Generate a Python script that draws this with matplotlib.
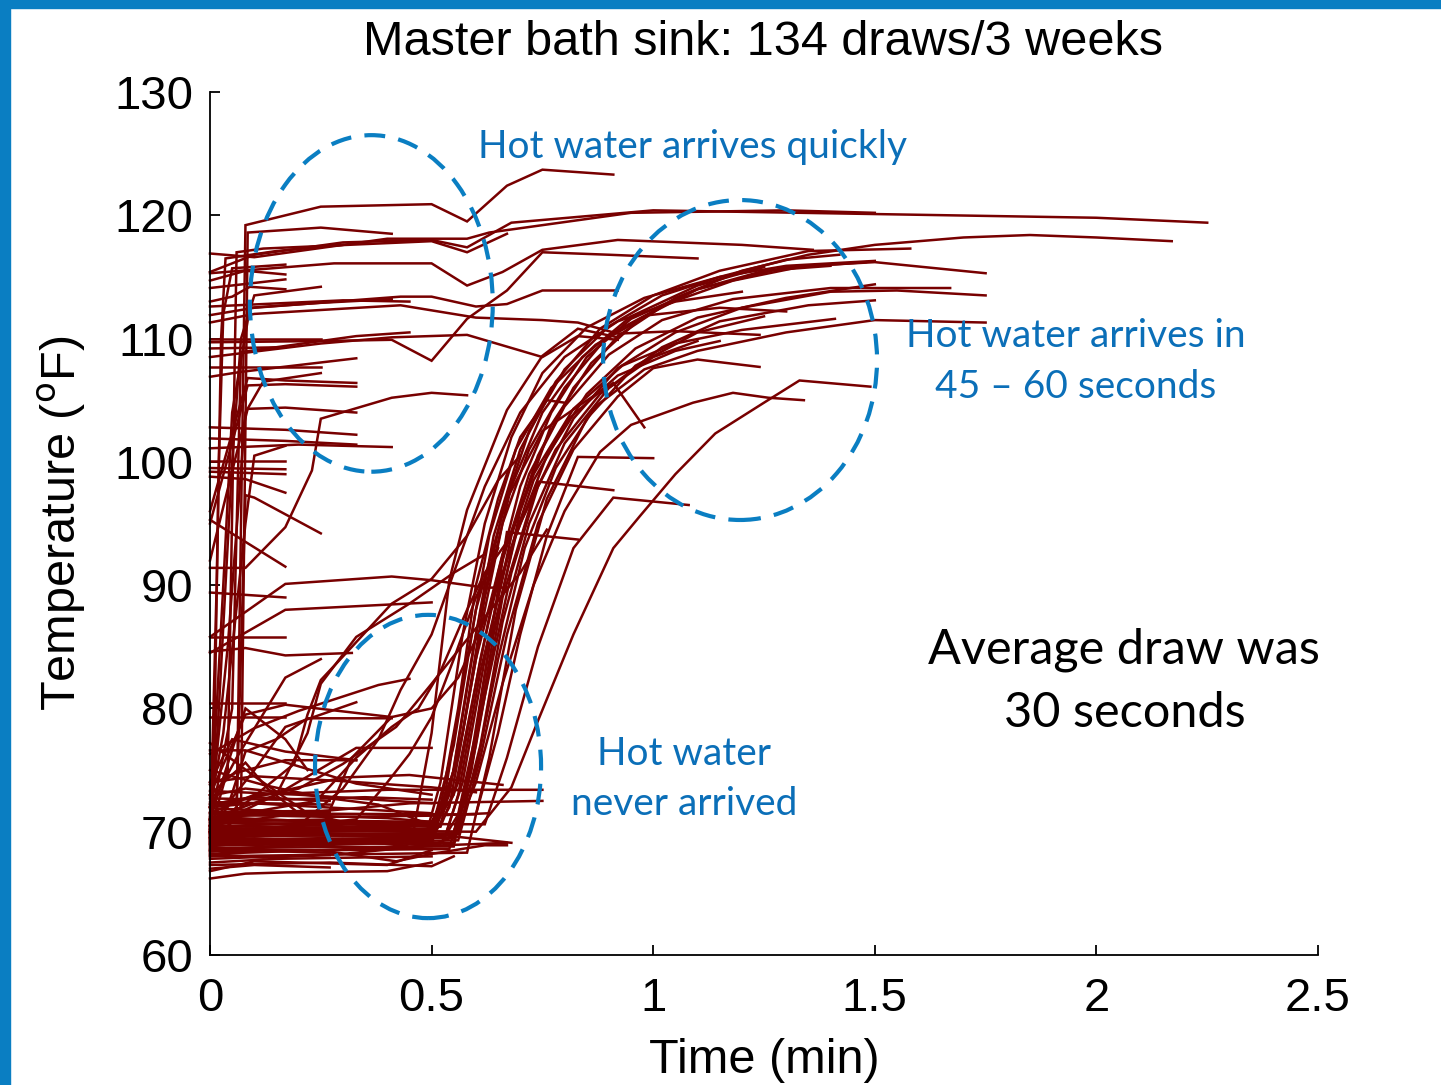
import matplotlib
matplotlib.use("Agg")
import matplotlib.pyplot as plt
from matplotlib.patches import Ellipse, Rectangle

# ---------------- data (time in min, temperature in degF) ----------------
title = "Master bath sink: 134 draws/3 weeks"
x_ticks = [0, 0.5, 1, 1.5, 2, 2.5]
x_tick_labels = ["0", "0.5", "1", "1.5", "2", "2.5"]
y_ticks = [60, 70, 80, 90, 100, 110, 120, 130]

# draws where hot water arrived almost immediately
quick_draws = [
    [(0, 69.5), (0.06, 71), (0.08, 119.2), (0.25, 120.7), (0.5, 120.9), (0.58, 119.5), (0.67, 122.4), (0.75, 123.7), (0.91, 123.3)],
    [(0, 70.5), (0.07, 72), (0.085, 118.6), (0.25, 119.0), (0.41, 118.5)],
    [(0, 115.4), (0.1, 116.8), (0.3, 117.8), (0.5, 118.0), (0.58, 117.4), (0.68, 119.4), (1.0, 120.4), (1.5, 120.1), (2.0, 119.8), (2.25, 119.4)],
    [(0, 116.9), (0.1, 116.6), (0.4, 118.1), (0.58, 118.1), (0.63, 118.6), (0.95, 120.2), (1.3, 120.4), (1.5, 120.2)],
    [(0, 115.3), (0.28, 116.1), (0.5, 116.1), (0.58, 114.3), (0.66, 115.4), (0.75, 117.2), (0.92, 118.0), (1.2, 117.6), (1.36, 117.2)],
    [(0, 111.9), (0.1, 112.5), (0.43, 113.4), (0.5, 113.4), (0.6, 112.6), (0.67, 112.8), (0.75, 113.9), (0.92, 113.9)],
    [(0, 111.3), (0.1, 112.0), (0.43, 112.7), (0.6, 111.7), (0.75, 111.5), (0.83, 111.3), (0.92, 110.4), (1.05, 110.6), (1.24, 110.3)],
    [(0, 109.7), (0.25, 109.8), (0.41, 109.9), (0.5, 108.2), (0.58, 111.6), (0.67, 113.9), (0.75, 117.0), (0.9, 116.8), (1.1, 116.5)],
    [(0, 108.5), (0.25, 109.6), (0.41, 110.1), (0.58, 110.3), (0.75, 108.5), (0.83, 110.2), (0.92, 109.9)],
    [(0, 107.7), (0.25, 107.7)],
    [(0, 96.0), (0.085, 106.8), (0.17, 106.6), (0.33, 106.4)],
    [(0, 95.0), (0.085, 106.2), (0.17, 106.3), (0.33, 106.1)],
    [(0, 92.0), (0.085, 104.3), (0.17, 104.4), (0.33, 104.0)],
    [(0, 91.4), (0.08, 91.4), (0.17, 94.7), (0.23, 99.3), (0.25, 103.5), (0.41, 105.2), (0.5, 105.6), (0.58, 105.4)],
    [(0, 102.8), (0.17, 102.6), (0.33, 102.2)],
    [(0, 101.9), (0.17, 101.7), (0.33, 101.4)],
    [(0, 101.1), (0.2, 101.4), (0.41, 101.2)],
    [(0, 100.1), (0.17, 100.1)],
    [(0, 99.5), (0.17, 99.4)],
    [(0, 99.2), (0.17, 99.0)],
    [(0, 98.8), (0.08, 98.6), (0.17, 97.5)],
    [(0, 70.0), (0.06, 72), (0.08, 97.3), (0.1, 97.1), (0.25, 94.2)],
    [(0, 95.3), (0.17, 91.5)],
    [(0, 85.8), (0.17, 90.1), (0.41, 90.7), (0.5, 90.4), (0.62, 89.8), (0.67, 89.8)],
    [(0, 89.4), (0.17, 89.0)],
    [(0, 84.5), (0.17, 88.0), (0.5, 88.6)],
    [(0, 85.8), (0.17, 85.8)],
    [(0, 84.6), (0.08, 84.9), (0.17, 84.3), (0.32, 84.5)],
    [(0, 80.4), (0.17, 80.4)],
    [(0, 79.3), (0.17, 79.3)],
    [(0, 114.7), (0.08, 115.5), (0.17, 115.2)],
    [(0, 114.1), (0.17, 114.8)],
    [(0, 113.0), (0.05, 113.4), (0.09, 114.2), (0.17, 114.0)],
    [(0, 70.0), (0.04, 75), (0.06, 117.0), (0.12, 117.3), (0.5, 117.9), (0.58, 117.0), (0.67, 118.5)],
    [(0, 110.0), (0.25, 110.0)],
    [(0, 70.5), (0.05, 80), (0.07, 108.9), (0.17, 109.4), (0.33, 110.2), (0.45, 110.5)],
    [(0, 109.2), (0.17, 109.3)],
    [(0, 106.9), (0.07, 107.3), (0.33, 108.4)],
    [(0, 112.6), (0.3, 113.1), (0.45, 113.0)],
    [(0, 70.0), (0.03, 90), (0.05, 104), (0.09, 112.5), (0.25, 112.9), (0.41, 113.2)],
    [(0, 68.5), (0.02, 80), (0.05, 100), (0.07, 110), (0.1, 113.5), (0.25, 114.2)],
    [(0, 71.0), (0.04, 85), (0.08, 104), (0.12, 106.5), (0.25, 107.2)],
    [(0, 72.0), (0.03, 78), (0.08, 95), (0.1, 100.5), (0.17, 101.3)],
    [(0, 70.0), (0.01, 78), (0.02, 100), (0.03, 112), (0.05, 115.7), (0.17, 116.0)],
    [(0, 69.0), (0.015, 90), (0.025, 110), (0.035, 116.5), (0.15, 117.1), (0.3, 117.6)],
    [(0, 72.0), (0.06, 76), (0.17, 82.5), (0.25, 84.0)],
    [(0, 70.5), (0.1, 75), (0.17, 78.5), (0.33, 80.5)],
    [(0, 73.0), (0.08, 79.5), (0.17, 80.3), (0.41, 79.3)],
    [(0, 74.0), (0.05, 77.5), (0.17, 76.5), (0.33, 75.8)],
    [(0, 71.0), (0.08, 80), (0.17, 77.5), (0.22, 75.0)],
    [(0, 76.3), (0.1, 78.4), (0.2, 79.8), (0.38, 81.9), (0.45, 82.4)],
]

# draws where hot water arrived after 45-60 seconds
delayed_draws = [
    [(0, 69.5), (0.25, 69.8), (0.5, 69.4), (0.54, 72), (0.58, 80), (0.62, 88), (0.66, 95), (0.72, 101), (0.8, 106), (0.9, 110.3), (1.03, 112.8), (1.18, 114.7), (1.33, 115.8), (1.48, 116.2)],
    [(0, 68.5), (0.3, 69.2), (0.53, 69.6), (0.57, 74), (0.62, 84), (0.68, 94), (0.74, 100.5), (0.82, 106), (0.92, 110.2), (1.05, 113.3), (1.2, 115.5), (1.35, 116.8), (1.5, 117.6), (1.7, 118.2), (1.85, 118.4), (2.0, 118.2), (2.17, 117.9)],
    [(0, 70.8), (0.5, 70.2), (0.55, 73), (0.6, 82), (0.65, 91), (0.7, 98), (0.77, 104), (0.85, 108.5), (0.95, 111.6), (1.1, 114.0), (1.3, 115.8), (1.5, 116.2), (1.75, 115.3)],
    [(0, 69.2), (0.52, 69.0), (0.57, 72), (0.62, 81), (0.68, 91), (0.74, 98), (0.82, 103.5), (0.92, 107.6), (1.05, 110.5), (1.2, 112.5), (1.4, 113.8), (1.55, 113.9), (1.75, 113.5)],
    [(0, 70.3), (0.55, 70.0), (0.6, 75), (0.65, 84), (0.71, 93), (0.78, 99.5), (0.87, 104.5), (0.98, 107.5), (1.1, 109.0), (1.3, 110.5), (1.5, 111.5), (1.75, 111.3)],
    [(0, 69.8), (0.5, 69.6), (0.54, 73), (0.59, 84), (0.64, 94), (0.7, 101), (0.78, 106.5), (0.88, 110.8), (1.0, 113.5), (1.15, 115.5), (1.35, 117.1), (1.58, 117.3)],
    [(0, 68.9), (0.55, 69.1), (0.59, 75), (0.64, 86), (0.7, 96), (0.77, 103), (0.86, 108), (0.97, 111.6), (1.1, 114.0), (1.25, 115.5), (1.4, 115.9)],
    [(0, 71.2), (0.52, 70.4), (0.56, 74), (0.61, 84), (0.66, 92), (0.72, 99), (0.8, 104.5), (0.9, 108.7), (1.02, 111.5), (1.18, 113.2), (1.4, 114.1), (1.67, 114.1)],
    [(0, 69.7), (0.5, 69.9), (0.56, 76), (0.6, 84), (0.66, 92.5), (0.73, 99), (0.82, 104.3), (0.93, 107.8), (1.05, 109.6), (1.2, 110.7), (1.41, 111.6)],
    [(0, 68.2), (0.48, 68.8), (0.52, 74), (0.57, 86), (0.62, 95), (0.68, 102), (0.75, 107.2), (0.85, 110.9), (0.98, 113.3), (1.15, 115.0), (1.3, 115.9), (1.5, 116.3)],
    [(0, 70.5), (0.46, 70.2), (0.5, 78), (0.54, 90.4), (0.58, 96.1), (0.67, 104.2), (0.75, 108.6), (0.83, 110.8), (0.92, 110.1)],
    [(0, 69.4), (0.55, 69.5), (0.6, 74), (0.66, 82), (0.73, 90), (0.8, 96), (0.88, 100.8), (0.95, 103.0), (1.09, 104.8), (1.18, 105.6), (1.26, 105.2), (1.34, 105.0)],
    [(0, 70.1), (0.6, 70.0), (0.68, 73.6), (0.74, 79), (0.82, 86), (0.91, 93), (0.97, 95.6), (1.05, 99), (1.14, 102.3), (1.25, 104.8), (1.33, 106.6), (1.49, 106.1)],
    [(0, 69.0), (0.56, 69.3), (0.61, 76), (0.67, 86), (0.74, 95), (0.82, 101), (0.92, 105.3), (1.0, 107.6), (1.1, 108.3), (1.24, 107.7)],
    [(0, 71.5), (0.6, 71.4), (0.65, 78), (0.7, 86), (0.76, 94), (0.83, 100.4), (1.0, 100.3)],
    [(0, 68.7), (0.55, 68.8), (0.6, 77), (0.66, 89), (0.74, 98.4), (0.91, 97.7)],
    [(0, 70.7), (0.62, 70.6), (0.67, 76), (0.74, 85), (0.82, 93), (0.91, 97.1), (1.08, 96.5)],
    [(0, 69.9), (0.55, 69.8), (0.6, 78), (0.67, 94.3), (0.83, 93.7)],
    [(0, 69.3), (0.5, 69.0), (0.55, 75), (0.6, 86), (0.66, 96), (0.72, 102.5), (0.8, 107.5), (0.9, 111), (1.02, 113.5), (1.15, 115), (1.3, 116.4), (1.42, 116.8)],
    [(0, 70.2), (0.52, 70.5), (0.57, 78), (0.62, 89), (0.68, 98), (0.75, 104), (0.84, 108.5), (0.95, 111.8), (1.1, 114.3), (1.25, 115.8)],
    [(0, 68.4), (0.54, 68.6), (0.58, 74), (0.63, 85), (0.69, 94), (0.76, 100.5), (0.85, 105.5), (0.96, 109.2), (1.1, 111.7), (1.3, 113.3), (1.5, 114.4)],
    [(0, 69.6), (0.56, 69.8), (0.61, 77), (0.66, 87), (0.72, 95), (0.8, 101.5), (0.9, 106), (1.02, 109.3), (1.15, 111.4), (1.35, 112.7), (1.5, 113.1)],
    [(0, 71.0), (0.5, 70.8), (0.53, 73), (0.58, 84), (0.63, 94), (0.69, 101), (0.77, 106), (0.87, 109.5), (0.99, 111.9), (1.15, 112.5), (1.3, 112.2)],
    [(0, 68.0), (0.58, 68.3), (0.63, 76), (0.69, 88), (0.76, 97), (0.85, 103.5), (0.96, 107.8), (1.1, 110.5), (1.25, 111.8)],
    [(0, 70.0), (0.53, 69.5), (0.56, 73), (0.61, 83), (0.67, 92), (0.73, 98.5), (0.81, 103.5), (0.92, 107), (1.05, 109), (1.15, 109.8)],
    [(0, 69.1), (0.48, 69.4), (0.52, 72), (0.56, 80), (0.6, 90), (0.65, 97), (0.7, 102), (0.76, 105), (0.8, 104.8)],
    [(0, 70.3), (0.5, 70.1), (0.55, 77), (0.6, 88), (0.67, 97), (0.75, 102.5), (0.83, 104.5), (0.91, 106.4), (0.98, 102.8)],
    [(0, 70.0), (0.2, 70.5), (0.3, 73.5), (0.38, 77.5), (0.43, 81.5), (0.5, 86), (0.56, 92), (0.62, 98), (0.7, 104), (0.8, 108.5), (0.92, 111.4), (1.05, 113), (1.2, 113.8)],
    [(0, 69.5), (0.25, 70), (0.32, 76), (0.41, 79.3), (0.5, 80), (0.56, 82.5), (0.63, 88), (0.7, 95), (0.78, 101), (0.88, 105.5), (1.0, 108.5), (1.1, 109.8)],
    [(0, 70.0), (0.19, 75.5), (0.22, 79.5), (0.25, 82.3), (0.31, 84.6), (0.41, 88.5), (0.5, 90.5), (0.58, 94), (0.65, 98.5), (0.7, 100.5)],
    [(0, 71.0), (0.24, 72.5), (0.33, 76), (0.41, 78.5), (0.47, 80), (0.52, 83), (0.58, 88), (0.62, 91), (0.67, 93.5)],
    [(0, 69.8), (0.33, 71), (0.4, 74), (0.45, 76.3), (0.5, 79.3), (0.55, 84), (0.6, 89), (0.65, 93)],
    [(0, 70.4), (0.15, 73), (0.22, 78), (0.25, 82), (0.33, 85.8), (0.45, 88.5), (0.55, 91.0), (0.62, 92.5)],
    [(0, 72.2), (0.2, 73.5), (0.3, 75.5), (0.42, 78.5), (0.5, 82), (0.6, 86.5), (0.7, 91), (0.76, 94.5)],
]

# draws where hot water never arrived
cold_draws = [
    [(0, 66.2), (0.08, 66.6), (0.17, 66.7), (0.4, 66.8), (0.5, 67.5)],
    [(0, 67.0), (0.1, 67.3), (0.27, 67.1)],
    [(0, 67.5), (0.15, 67.8), (0.5, 68.0)],
    [(0, 68.0), (0.05, 68.5), (0.27, 68.3)],
    [(0, 68.4), (0.2, 68.9), (0.5, 68.6)],
    [(0, 68.8), (0.1, 69.2), (0.27, 69.0)],
    [(0, 69.2), (0.27, 69.5)],
    [(0, 69.6), (0.12, 70.0), (0.35, 69.8), (0.5, 69.4)],
    [(0, 70.0), (0.27, 70.3)],
    [(0, 70.4), (0.2, 70.7), (0.5, 70.4)],
    [(0, 70.8), (0.27, 71.0)],
    [(0, 71.2), (0.15, 71.4), (0.4, 71.1), (0.5, 70.8)],
    [(0, 71.6), (0.27, 71.7)],
    [(0, 72.0), (0.1, 72.3), (0.3, 71.9), (0.5, 71.5)],
    [(0, 72.4), (0.27, 72.2)],
    [(0, 72.9), (0.08, 73.5), (0.27, 72.8)],
    [(0, 73.3), (0.2, 73.0), (0.5, 72.3)],
    [(0, 69.0), (0.3, 69.4), (0.45, 68.8), (0.6, 69.0), (0.67, 69.1)],
    [(0, 68.6), (0.25, 68.5), (0.42, 67.6), (0.5, 68.2), (0.62, 68.9), (0.67, 68.9)],
    [(0, 71.5), (0.1, 73.0), (0.4, 73.4), (0.75, 73.4)],
    [(0, 70.5), (0.2, 71.5), (0.45, 72.3), (0.75, 72.5)],
    [(0, 74.0), (0.1, 74.5), (0.3, 74.1), (0.5, 73.6), (0.6, 73.2)],
    [(0, 67.8), (0.3, 68.2), (0.5, 68.9), (0.55, 69.6)],
    [(0, 69.9), (0.1, 69.6), (0.27, 70.1)],
    [(0, 70.6), (0.05, 71.0), (0.3, 70.8), (0.5, 70.1)],
    [(0, 71.9), (0.27, 71.5)],
    [(0, 66.8), (0.1, 67.6), (0.4, 67.3), (0.5, 68.5)],
    [(0, 72.7), (0.15, 72.6), (0.35, 72.8), (0.5, 72.6)],
    [(0, 71.0), (0.1, 70.6), (0.5, 70.8)],
    [(0, 69.4), (0.2, 69.1), (0.5, 69.3)],
    [(0, 68.2), (0.12, 67.9), (0.27, 68.1)],
    [(0, 73.8), (0.06, 74.8), (0.17, 75.8), (0.33, 75.8)],
    [(0, 71.0), (0.15, 73.0), (0.33, 76.8), (0.5, 76.8)],
    [(0, 70.2), (0.04, 72), (0.08, 76.5), (0.15, 77.5), (0.22, 79.2), (0.41, 79.2)],
    [(0, 72.0), (0.3, 74.4), (0.45, 74.6), (0.66, 73.8)],
    [(0, 67.3), (0.27, 67.5), (0.5, 67.2), (0.55, 68.0)],
    [(0, 69.8), (0.27, 69.7), (0.53, 69.7), (0.68, 69.1)],
    [(0, 71.4), (0.27, 71.2), (0.5, 71.3), (0.63, 71.5)],
    [(0, 70.9), (0.13, 71.6), (0.27, 71.3)],
    [(0, 72.2), (0.1, 72.8), (0.27, 72.5)],
    [(0, 77.2), (0.1, 74.5), (0.22, 71.5), (0.3, 70.8)],
    [(0, 75.0), (0.12, 73.8), (0.25, 72.8), (0.38, 72.2), (0.5, 70.5)],
    [(0, 73.0), (0.08, 75.6), (0.13, 73.5), (0.2, 71.5)],
    [(0, 76.6), (0.08, 76.6), (0.33, 73.9), (0.5, 73.0)],
]

# annotation ellipses: (centre time, centre temp, width min, height degF)
ellipses = [
    (0.364, 112.85, 0.548, 27.3),
    (1.196, 108.26, 0.618, 25.95),
    (0.492, 75.29, 0.510, 24.6),
]

# ---------------- styling ----------------
LINE = "#780000"
BLUE = "#0a7ec2"
TEXT_BLUE = "#0b6fb8"
W, H = 1441, 1085

plt.rcParams["font.family"] = ["Liberation Sans", "DejaVu Sans"]

fig = plt.figure(figsize=(W / 100, H / 100), dpi=100)
fig.patch.set_facecolor("white")

def fx(px):
    return px / W

def fy(py):
    return 1 - py / H

ax = fig.add_axes([fx(210), fy(955), 1108 / W, 863 / H])

for group in (cold_draws, delayed_draws, quick_draws):
    for draw in group:
        ts = [p[0] for p in draw]
        Ts = [p[1] for p in draw]
        ax.plot(ts, Ts, color=LINE, lw=1.8, solid_joinstyle="miter", clip_on=False)

for cx, cy, w, h in ellipses:
    ax.add_patch(Ellipse((cx, cy), w, h, fill=False, edgecolor=BLUE, lw=3.0,
                         linestyle=(0, (5, 3.2)), clip_on=False, zorder=5))

ax.set_xlim(0, 2.5)
ax.set_ylim(60, 130)
ax.set_xticks(x_ticks)
ax.set_xticklabels(x_tick_labels)
ax.set_yticks(y_ticks)
ax.tick_params(direction="in", length=7, width=1.3, labelsize=34, colors="black")
ax.tick_params(axis="x", pad=16)
ax.tick_params(axis="y", pad=12)
for s in ("top", "right"):
    ax.spines[s].set_visible(False)
for s in ("left", "bottom"):
    ax.spines[s].set_linewidth(1.3)

ax.set_ylabel("Temperature ($^{\\rm o}$F)", fontsize=35, va="center")
ax.yaxis.set_label_coords((62 - 210) / 1108, 0.5)
ax.set_xlabel("Time (min)", fontsize=35, va="baseline")
ax.xaxis.set_label_coords(0.5, (955 - 1073) / 863)

fig.text(fx(763), fy(55), title, fontsize=35, ha="center", va="baseline")

ann = dict(family=["Lato", "DejaVu Sans"], color=TEXT_BLUE, ha="center", va="baseline", fontsize=28)
fig.text(fx(692), fy(158), "Hot water arrives quickly", **ann)
fig.text(fx(1076), fy(347), "Hot water arrives in", **ann)
fig.text(fx(1076), fy(398), "45 \u2013 60 seconds", **ann)
fig.text(fx(684), fy(765), "Hot water", **ann)
fig.text(fx(684), fy(815), "never arrived", **ann)
blk = dict(family=["Lato", "DejaVu Sans"], color="black", ha="center", va="baseline", fontsize=35)
fig.text(fx(1124), fy(663), "Average draw was", **blk)
fig.text(fx(1125), fy(727), "30 seconds", **blk)

# slide frame
fig.patches.append(Rectangle((0, 0), 10 / W, 1, transform=fig.transFigure, color=BLUE, zorder=10))
fig.patches.append(Rectangle((0, fy(8)), 1, 8 / H, transform=fig.transFigure, color=BLUE, zorder=10))

fig.savefig("out.png", dpi=100)
